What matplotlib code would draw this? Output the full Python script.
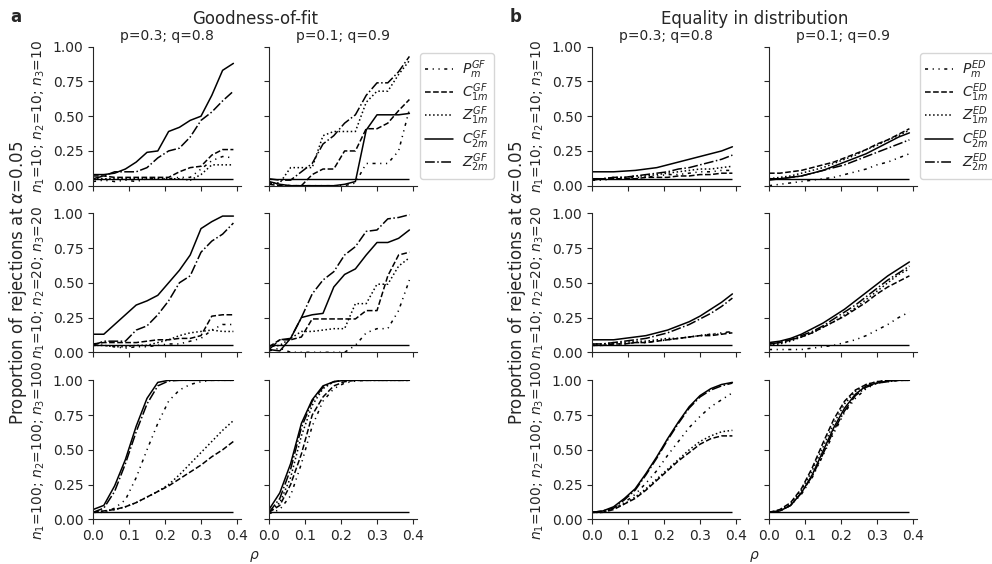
import numpy as np
import matplotlib
matplotlib.use('Agg')
from matplotlib import pyplot as plt
import seaborn as sns

# rho grid used in the simulations
rho = [0.00, 0.03, 0.06, 0.09, 0.12, 0.15, 0.18, 0.21, 0.24, 0.27, 0.30, 0.33, 0.36, 0.39]
alpha_level = 0.05

col_titles = ['p=0.3; q=0.8', 'p=0.1; q=0.9']
row_labels = [r'$n_1$=10; $n_2$=10; $n_3$=10',
              r'$n_1$=10; $n_2$=20; $n_3$=20',
              r'$n_1$=100; $n_2$=100; $n_3$=100']
gf_labels = [r'$P_m^{GF}$', r'$C_{1m}^{GF}$', r'$Z_{1m}^{GF}$', r'$C_{2m}^{GF}$', r'$Z_{2m}^{GF}$']
ed_labels = [r'$P_m^{ED}$', r'$C_{1m}^{ED}$', r'$Z_{1m}^{ED}$', r'$C_{2m}^{ED}$', r'$Z_{2m}^{ED}$']

############## Goodness-of-fit ##############
# n=10,10,10 ; p=0.3 q=0.8
gf_n10_pq38_P   = [0.03, 0.04, 0.03, 0.04, 0.03, 0.05, 0.05, 0.05, 0.06, 0.06, 0.12, 0.18, 0.21, 0.20]
gf_n10_pq38_C1  = [0.07, 0.07, 0.06, 0.06, 0.06, 0.06, 0.06, 0.06, 0.10, 0.13, 0.14, 0.22, 0.26, 0.26]
gf_n10_pq38_Z1  = [0.05, 0.05, 0.05, 0.05, 0.05, 0.05, 0.05, 0.05, 0.05, 0.04, 0.08, 0.15, 0.15, 0.15]
gf_n10_pq38_C2  = [0.08, 0.08, 0.09, 0.12, 0.17, 0.24, 0.25, 0.39, 0.42, 0.47, 0.50, 0.65, 0.83, 0.88]
gf_n10_pq38_Z2  = [0.05, 0.07, 0.10, 0.10, 0.10, 0.13, 0.20, 0.25, 0.27, 0.35, 0.47, 0.53, 0.61, 0.68]
# n=10,10,10 ; p=0.1 q=0.9
gf_n10_pq19_P   = [0.02, 0.01, 0.00, 0.00, 0.00, 0.00, 0.00, 0.00, 0.02, 0.16, 0.16, 0.16, 0.25, 0.55]
gf_n10_pq19_C1  = [0.01, 0.00, 0.00, 0.00, 0.08, 0.12, 0.12, 0.25, 0.25, 0.41, 0.41, 0.45, 0.54, 0.62]
gf_n10_pq19_Z1  = [0.02, 0.02, 0.13, 0.13, 0.13, 0.36, 0.39, 0.39, 0.39, 0.60, 0.68, 0.68, 0.80, 0.90]
gf_n10_pq19_C2  = [0.03, 0.01, 0.00, 0.00, 0.00, 0.00, 0.00, 0.01, 0.03, 0.40, 0.51, 0.51, 0.51, 0.52]
gf_n10_pq19_Z2  = [0.05, 0.04, 0.04, 0.10, 0.16, 0.30, 0.36, 0.45, 0.51, 0.65, 0.74, 0.74, 0.82, 0.93]
# n=10,20,20 ; p=0.3 q=0.8
gf_n20_pq38_P   = [0.05, 0.05, 0.04, 0.03, 0.04, 0.04, 0.05, 0.06, 0.06, 0.08, 0.10, 0.16, 0.20, 0.20]
gf_n20_pq38_C1  = [0.06, 0.07, 0.07, 0.07, 0.07, 0.08, 0.09, 0.09, 0.10, 0.10, 0.12, 0.26, 0.27, 0.27]
gf_n20_pq38_Z1  = [0.05, 0.05, 0.04, 0.04, 0.05, 0.05, 0.07, 0.09, 0.12, 0.14, 0.15, 0.16, 0.15, 0.15]
gf_n20_pq38_C2  = [0.13, 0.13, 0.20, 0.27, 0.34, 0.37, 0.41, 0.50, 0.59, 0.70, 0.89, 0.94, 0.98, 0.98]
gf_n20_pq38_Z2  = [0.05, 0.08, 0.08, 0.08, 0.16, 0.19, 0.27, 0.37, 0.50, 0.55, 0.72, 0.80, 0.85, 0.93]
# n=10,20,20 ; p=0.1 q=0.9
gf_n20_pq19_P   = [0.01, 0.03, 0.00, 0.00, 0.00, 0.00, 0.00, 0.00, 0.05, 0.14, 0.17, 0.17, 0.30, 0.52]
gf_n20_pq19_C1  = [0.04, 0.09, 0.09, 0.11, 0.24, 0.24, 0.24, 0.24, 0.24, 0.30, 0.30, 0.55, 0.70, 0.72]
gf_n20_pq19_Z1  = [0.04, 0.05, 0.10, 0.15, 0.15, 0.16, 0.17, 0.17, 0.35, 0.35, 0.49, 0.49, 0.62, 0.68]
gf_n20_pq19_C2  = [0.02, 0.01, 0.10, 0.25, 0.27, 0.28, 0.47, 0.56, 0.60, 0.70, 0.79, 0.79, 0.82, 0.88]
gf_n20_pq19_Z2  = [0.02, 0.09, 0.10, 0.25, 0.42, 0.52, 0.58, 0.70, 0.76, 0.87, 0.88, 0.96, 0.97, 0.99]
# n=100,100,100 ; p=0.3 q=0.8
gf_n100_pq38_P  = [0.05, 0.05, 0.08, 0.14, 0.30, 0.50, 0.69, 0.85, 0.93, 0.97, 0.99, 1.00, 1.00, 1.00]
gf_n100_pq38_C1 = [0.05, 0.06, 0.07, 0.09, 0.12, 0.16, 0.20, 0.24, 0.29, 0.34, 0.39, 0.45, 0.50, 0.56]
gf_n100_pq38_Z1 = [0.05, 0.06, 0.07, 0.09, 0.12, 0.16, 0.20, 0.25, 0.32, 0.40, 0.48, 0.56, 0.64, 0.71]
gf_n100_pq38_C2 = [0.07, 0.10, 0.24, 0.43, 0.67, 0.87, 0.985, 1.00, 1.00, 1.00, 1.00, 1.00, 1.00, 1.00]
gf_n100_pq38_Z2 = [0.05, 0.08, 0.20, 0.40, 0.63, 0.83, 0.96, 0.995, 1.00, 1.00, 1.00, 1.00, 1.00, 1.00]
# n=100,100,100 ; p=0.1 q=0.9
gf_n100_pq19_P  = [0.04, 0.07, 0.17, 0.40, 0.67, 0.85, 0.94, 0.98, 0.995, 1.00, 1.00, 1.00, 1.00, 1.00]
gf_n100_pq19_C1 = [0.05, 0.10, 0.25, 0.47, 0.75, 0.88, 0.96, 0.99, 1.00, 1.00, 1.00, 1.00, 1.00, 1.00]
gf_n100_pq19_Z1 = [0.05, 0.12, 0.30, 0.60, 0.82, 0.94, 0.99, 1.00, 1.00, 1.00, 1.00, 1.00, 1.00, 1.00]
gf_n100_pq19_C2 = [0.07, 0.19, 0.40, 0.69, 0.86, 0.96, 0.99, 1.00, 1.00, 1.00, 1.00, 1.00, 1.00, 1.00]
gf_n100_pq19_Z2 = [0.05, 0.15, 0.36, 0.66, 0.85, 0.95, 0.99, 1.00, 1.00, 1.00, 1.00, 1.00, 1.00, 1.00]

############## Equality in distribution ##############
ed_n10_pq38_P   = [0.04, 0.04, 0.05, 0.05, 0.06, 0.06, 0.07, 0.08, 0.08, 0.09, 0.10, 0.10, 0.11, 0.11]
ed_n10_pq38_C1  = [0.04, 0.05, 0.05, 0.05, 0.05, 0.06, 0.06, 0.06, 0.07, 0.07, 0.08, 0.08, 0.09, 0.09]
ed_n10_pq38_Z1  = [0.05, 0.05, 0.06, 0.06, 0.07, 0.07, 0.08, 0.09, 0.10, 0.11, 0.12, 0.12, 0.13, 0.14]
ed_n10_pq38_C2  = [0.10, 0.10, 0.10, 0.105, 0.11, 0.12, 0.13, 0.15, 0.17, 0.19, 0.21, 0.23, 0.25, 0.28]
ed_n10_pq38_Z2  = [0.05, 0.05, 0.06, 0.06, 0.07, 0.08, 0.09, 0.10, 0.12, 0.13, 0.15, 0.17, 0.19, 0.22]

ed_n10_pq19_P   = [0.00, 0.01, 0.02, 0.03, 0.04, 0.05, 0.06, 0.08, 0.10, 0.12, 0.15, 0.17, 0.20, 0.23]
ed_n10_pq19_C1  = [0.09, 0.09, 0.10, 0.11, 0.13, 0.15, 0.17, 0.20, 0.23, 0.26, 0.30, 0.33, 0.37, 0.41]
ed_n10_pq19_Z1  = [0.05, 0.06, 0.07, 0.09, 0.11, 0.13, 0.16, 0.19, 0.22, 0.26, 0.29, 0.33, 0.36, 0.40]
ed_n10_pq19_C2  = [0.05, 0.05, 0.06, 0.07, 0.09, 0.11, 0.14, 0.17, 0.20, 0.23, 0.27, 0.31, 0.35, 0.38]
ed_n10_pq19_Z2  = [0.04, 0.05, 0.06, 0.07, 0.09, 0.11, 0.13, 0.15, 0.18, 0.21, 0.24, 0.27, 0.30, 0.33]

ed_n20_pq38_P   = [0.05, 0.05, 0.06, 0.06, 0.07, 0.07, 0.08, 0.09, 0.10, 0.11, 0.12, 0.13, 0.14, 0.15]
ed_n20_pq38_C1  = [0.05, 0.05, 0.06, 0.06, 0.07, 0.07, 0.08, 0.09, 0.10, 0.11, 0.12, 0.12, 0.13, 0.14]
ed_n20_pq38_Z1  = [0.06, 0.06, 0.07, 0.07, 0.08, 0.08, 0.09, 0.10, 0.10, 0.11, 0.12, 0.13, 0.13, 0.15]
ed_n20_pq38_C2  = [0.09, 0.09, 0.09, 0.10, 0.11, 0.12, 0.14, 0.16, 0.19, 0.22, 0.26, 0.31, 0.36, 0.42]
ed_n20_pq38_Z2  = [0.06, 0.06, 0.07, 0.08, 0.09, 0.10, 0.12, 0.14, 0.17, 0.20, 0.24, 0.28, 0.33, 0.39]

ed_n20_pq19_P   = [0.02, 0.02, 0.02, 0.02, 0.03, 0.04, 0.05, 0.07, 0.09, 0.12, 0.16, 0.20, 0.25, 0.29]
ed_n20_pq19_C1  = [0.06, 0.07, 0.09, 0.11, 0.14, 0.18, 0.22, 0.26, 0.31, 0.36, 0.42, 0.47, 0.51, 0.55]
ed_n20_pq19_Z1  = [0.05, 0.06, 0.08, 0.11, 0.14, 0.18, 0.22, 0.27, 0.32, 0.38, 0.44, 0.50, 0.56, 0.60]
ed_n20_pq19_C2  = [0.07, 0.08, 0.10, 0.13, 0.17, 0.21, 0.26, 0.31, 0.37, 0.43, 0.49, 0.55, 0.60, 0.65]
ed_n20_pq19_Z2  = [0.06, 0.07, 0.09, 0.12, 0.15, 0.19, 0.24, 0.29, 0.34, 0.40, 0.46, 0.52, 0.57, 0.62]

ed_n100_pq38_P  = [0.05, 0.05, 0.08, 0.12, 0.18, 0.26, 0.35, 0.46, 0.56, 0.66, 0.74, 0.81, 0.86, 0.91]
ed_n100_pq38_C1 = [0.05, 0.05, 0.07, 0.11, 0.15, 0.21, 0.28, 0.35, 0.42, 0.48, 0.54, 0.58, 0.60, 0.60]
ed_n100_pq38_Z1 = [0.05, 0.05, 0.08, 0.11, 0.16, 0.22, 0.29, 0.36, 0.43, 0.50, 0.56, 0.60, 0.63, 0.64]
ed_n100_pq38_C2 = [0.05, 0.06, 0.09, 0.15, 0.22, 0.33, 0.45, 0.58, 0.70, 0.81, 0.89, 0.94, 0.97, 0.985]
ed_n100_pq38_Z2 = [0.05, 0.06, 0.08, 0.14, 0.21, 0.32, 0.44, 0.57, 0.69, 0.80, 0.88, 0.93, 0.96, 0.98]

ed_n100_pq19_P  = [0.05, 0.06, 0.10, 0.18, 0.30, 0.46, 0.62, 0.77, 0.87, 0.94, 0.98, 0.99, 1.00, 1.00]
ed_n100_pq19_C1 = [0.05, 0.07, 0.12, 0.22, 0.37, 0.55, 0.72, 0.85, 0.93, 0.97, 0.99, 1.00, 1.00, 1.00]
ed_n100_pq19_Z1 = [0.05, 0.06, 0.11, 0.21, 0.35, 0.52, 0.69, 0.83, 0.92, 0.97, 0.99, 1.00, 1.00, 1.00]
ed_n100_pq19_C2 = [0.05, 0.06, 0.10, 0.19, 0.32, 0.49, 0.66, 0.80, 0.90, 0.96, 0.98, 0.995, 1.00, 1.00]
ed_n100_pq19_Z2 = [0.05, 0.06, 0.10, 0.19, 0.31, 0.47, 0.64, 0.78, 0.89, 0.95, 0.98, 0.99, 1.00, 1.00]

gf_grid = [[[gf_n10_pq38_P, gf_n10_pq38_C1, gf_n10_pq38_Z1, gf_n10_pq38_C2, gf_n10_pq38_Z2],
            [gf_n10_pq19_P, gf_n10_pq19_C1, gf_n10_pq19_Z1, gf_n10_pq19_C2, gf_n10_pq19_Z2]],
           [[gf_n20_pq38_P, gf_n20_pq38_C1, gf_n20_pq38_Z1, gf_n20_pq38_C2, gf_n20_pq38_Z2],
            [gf_n20_pq19_P, gf_n20_pq19_C1, gf_n20_pq19_Z1, gf_n20_pq19_C2, gf_n20_pq19_Z2]],
           [[gf_n100_pq38_P, gf_n100_pq38_C1, gf_n100_pq38_Z1, gf_n100_pq38_C2, gf_n100_pq38_Z2],
            [gf_n100_pq19_P, gf_n100_pq19_C1, gf_n100_pq19_Z1, gf_n100_pq19_C2, gf_n100_pq19_Z2]]]
ed_grid = [[[ed_n10_pq38_P, ed_n10_pq38_C1, ed_n10_pq38_Z1, ed_n10_pq38_C2, ed_n10_pq38_Z2],
            [ed_n10_pq19_P, ed_n10_pq19_C1, ed_n10_pq19_Z1, ed_n10_pq19_C2, ed_n10_pq19_Z2]],
           [[ed_n20_pq38_P, ed_n20_pq38_C1, ed_n20_pq38_Z1, ed_n20_pq38_C2, ed_n20_pq38_Z2],
            [ed_n20_pq19_P, ed_n20_pq19_C1, ed_n20_pq19_Z1, ed_n20_pq19_C2, ed_n20_pq19_Z2]],
           [[ed_n100_pq38_P, ed_n100_pq38_C1, ed_n100_pq38_Z1, ed_n100_pq38_C2, ed_n100_pq38_Z2],
            [ed_n100_pq19_P, ed_n100_pq19_C1, ed_n100_pq19_Z1, ed_n100_pq19_C2, ed_n100_pq19_Z2]]]

line_styles = [(0, (2, 3, 0.8, 3, 0.8, 3)), '--', ':', '-', '-.']

sns.set_style('ticks')
plt.rcParams['font.family'] = ['DejaVu Sans']
plt.rcParams['xtick.major.size'] = 3.5
plt.rcParams['ytick.major.size'] = 3.5

W, H = 992, 564
fig = plt.figure(figsize=(W / 100, H / 100), dpi=100)

col_left_px = [[93, 269], [592, 769]]
row_bottom_px = [185.7, 352.3, 519.3]
ax_w, ax_h = 147.6, 139


def draw_panel(grid, labels, lefts, letter, title, x_letter, x_big):
    axes = []
    for r in range(3):
        for c in range(2):
            ax = fig.add_axes([lefts[c] / W, 1 - row_bottom_px[r] / H, ax_w / W, ax_h / H])
            for s in range(5):
                ax.plot(rho, grid[r][c][s], color='k', lw=1.1, ls=line_styles[s], label=labels[s])
            ax.hlines(alpha_level, rho[0], rho[-1], color='k', lw=1.0)
            ax.set_xlim(0, 0.41)
            ax.set_ylim(0, 1)
            ax.set_xticks([0, 0.1, 0.2, 0.3, 0.4])
            ax.set_yticks([0, 0.25, 0.5, 0.75, 1.0])
            ax.tick_params(labelsize=10)
            if r < 2:
                ax.set_xticklabels([])
            else:
                ax.set_xticklabels(['0.0', '0.1', '0.2', '0.3', '0.4'])
            if c == 0:
                ax.set_yticklabels(['0.00', '0.25', '0.50', '0.75', '1.00'])
                ax.set_ylabel(row_labels[r], fontsize=10)
            else:
                ax.set_yticklabels([])
            if r == 0:
                ax.set_title(col_titles[c], fontsize=10, pad=5)
            sns.despine(ax=ax)
            axes.append(ax)
    axes[1].legend(loc='upper left', bbox_to_anchor=(1 + 3.5 / ax_w, 1 - 6.5 / ax_h), borderaxespad=0,
                   fontsize=10, handlelength=2.0, labelspacing=0.05, handletextpad=0.7,
                   borderpad=0.35)
    mid = (lefts[0] + lefts[1] + ax_w) / 2
    fig.text(x_letter / W, 1 - 22 / H, letter, fontsize=12, fontweight='bold', va='baseline')
    fig.text(mid / W, 1 - 24 / H, title, fontsize=12, ha='center', va='baseline')
    fig.text(x_big / W, 1 - 283 / H, r'Proportion of rejections at $\alpha$=0.05',
             fontsize=12, rotation=90, ha='center', va='center')
    fig.text(mid / W, 1 - 556 / H, r'$\rho$', fontsize=10, ha='center', va='center')


draw_panel(gf_grid, gf_labels, col_left_px[0], 'a', 'Goodness-of-fit', 10, 18)
draw_panel(ed_grid, ed_labels, col_left_px[1], 'b', 'Equality in distribution', 510, 517)

plt.savefig('out.png', dpi=100)
